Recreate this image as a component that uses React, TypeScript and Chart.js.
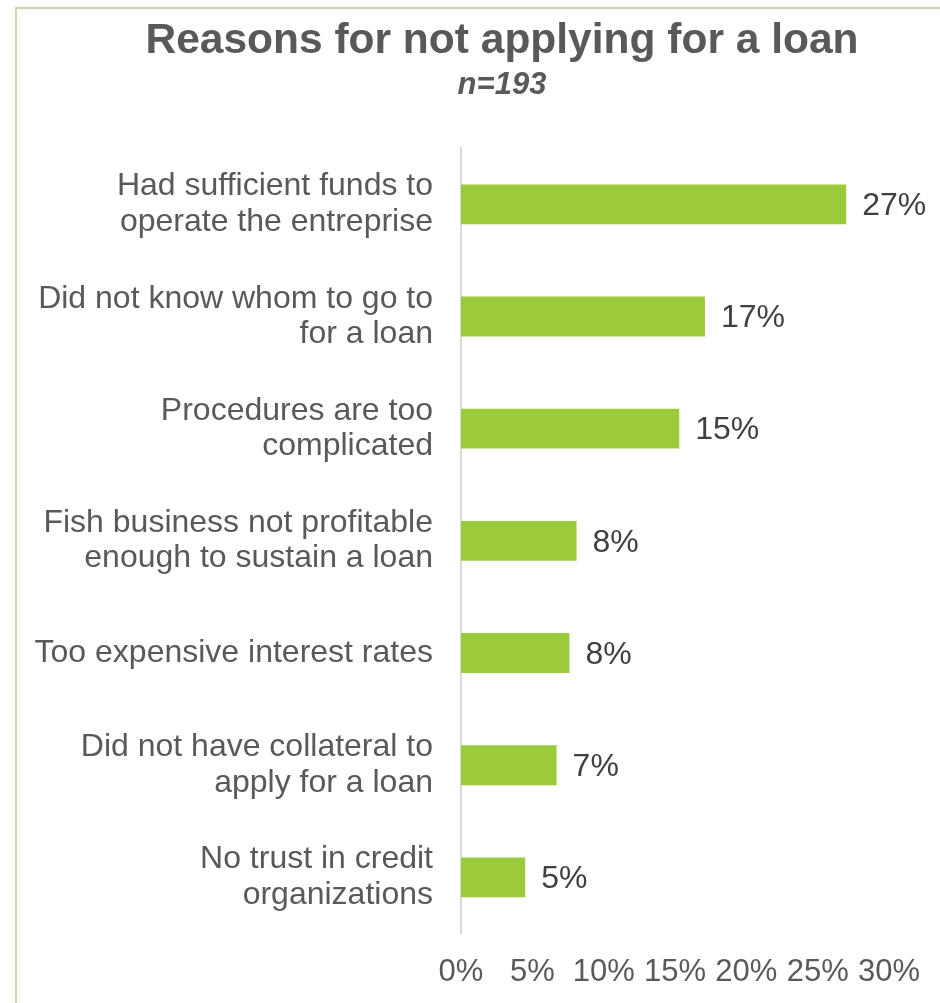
import React, { useEffect, useRef } from "react";
import { Chart, registerables } from "chart.js";

Chart.register(...registerables);

const categories: string[][] = [
  ["Had sufficient funds to", "operate the entreprise"],
  ["Did not know whom to go to", "for a loan"],
  ["Procedures are too", "complicated"],
  ["Fish business not profitable", "enough to sustain a loan"],
  ["Too expensive interest rates"],
  ["Did not have collateral to", "apply for a loan"],
  ["No trust in credit", "organizations"],
];
const values: number[] = [27.0, 17.1, 15.3, 8.1, 7.6, 6.7, 4.5];
const xMin = 0;
const xMax = 30;
const xStep = 5;
const titleText = "Reasons for not applying for a loan";
const subtitleText = "n=193";

const FONT = '"Liberation Sans", Arial, sans-serif';
const CANVAS_W = 984;
const CANVAS_H = 1003;

const valueLabels = {
  id: "valueLabels",
  afterDatasetsDraw(chart: any) {
    const ctx = chart.ctx;
    const meta = chart.getDatasetMeta(0);
    ctx.save();
    ctx.font = `32px ${FONT}`;
    ctx.fillStyle = "#404040";
    ctx.textAlign = "left";
    ctx.textBaseline = "middle";
    meta.data.forEach((bar: any, i: number) => {
      ctx.fillText(Math.round(values[i]) + "%", bar.x + 16, bar.y + 2);
    });
    ctx.restore();
  },
};

export default function App() {
  const ref = useRef<HTMLCanvasElement | null>(null);
  useEffect(() => {
    if (!ref.current) return;
    const chart = new Chart(ref.current, {
      type: "bar",
      data: {
        labels: categories,
        datasets: [
          {
            data: values,
            backgroundColor: "#9BCB3A",
            borderWidth: 0,
            barPercentage: 0.355,
            categoryPercentage: 1,
            yAxisID: "y",
          },
        ],
      },
      options: {
        indexAxis: "y",
        responsive: false,
        animation: false,
        layout: { padding: { left: 20, right: 0, top: 0, bottom: 12 } },
        plugins: {
          legend: { display: false },
          tooltip: { enabled: false },
          title: {
            display: true,
            text: titleText,
            color: "#595959",
            font: { family: FONT, size: 42.5, weight: "bold", lineHeight: 1.2 },
            padding: { top: 16, bottom: 0 },
          },
          subtitle: {
            display: true,
            text: subtitleText,
            color: "#595959",
            font: { family: FONT, size: 31, weight: "bold", style: "italic", lineHeight: 1.2 },
            padding: { top: 0, bottom: 44 },
          },
        },
        scales: {
          x: {
            type: "linear",
            min: xMin,
            max: xMax,
            grid: { display: false, drawTicks: false },
            border: { display: false },
            ticks: {
              stepSize: xStep,
              padding: 20,
              maxRotation: 0,
              autoSkip: false,
              color: "#595959",
              font: { family: FONT, size: 31 },
              callback: (v: any) => v + "%",
            },
            afterFit: (scale: any) => {
              scale.height = 57.5;
              scale.paddingLeft = 0;
              scale.paddingRight = 0;
            },
          },
          y: {
            type: "category",
            position: "left",
            grid: { display: false, drawTicks: false },
            border: { display: true, color: "#d9d9d9", width: 2 },
            ticks: {
              padding: 28,
              autoSkip: false,
              color: "#595959",
              font: { family: FONT, size: 32, lineHeight: 1.11 },
            },
            afterFit: (scale: any) => {
              scale.width = 441;
              scale.paddingTop = 0;
              scale.paddingBottom = 0;
            },
          },
          yRight: {
            type: "category",
            position: "right",
            display: true,
            grid: { display: false, drawTicks: false },
            border: { display: false },
            ticks: { display: false },
            afterFit: (scale: any) => {
              scale.width = 95;
              scale.paddingTop = 0;
              scale.paddingBottom = 0;
            },
          },
        },
      },
      plugins: [valueLabels],
    });
    return () => chart.destroy();
  }, []);

  return (
    <div style={{ position: "fixed", left: 0, top: 0, width: 940, height: 1003, overflow: "hidden", background: "#fff" }}>
      <canvas
        ref={ref}
        width={CANVAS_W}
        height={CANVAS_H}
        style={{ position: "absolute", left: 0, top: 0, width: CANVAS_W, height: CANVAS_H }}
      />
      <div
        style={{
          position: "absolute",
          left: 15,
          top: 7,
          width: 940,
          height: 1010,
          borderLeft: "2px solid #d6d3b2",
          borderTop: "2px solid #d6d3b2",
          pointerEvents: "none",
        }}
      />
    </div>
  );
}
